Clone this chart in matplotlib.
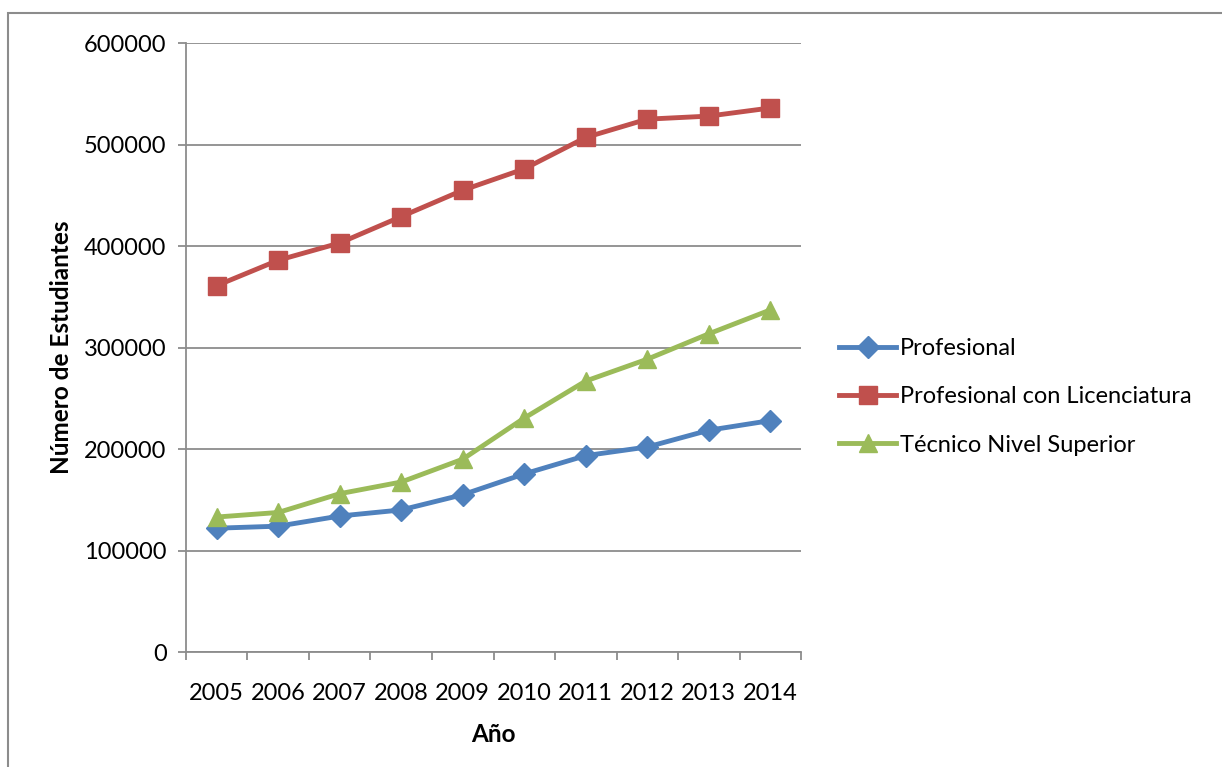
import matplotlib.pyplot as plt
from matplotlib.patches import Rectangle
import numpy as np

plt.rcParams['font.family'] = ['Lato', 'DejaVu Sans']

anios = ['2005', '2006', '2007', '2008', '2009', '2010', '2011', '2012', '2013', '2014']
profesional = [122000, 124000, 134000, 140000, 155000, 175500, 193500, 202000, 218500, 228000]
licenciatura = [361000, 386000, 403000, 429000, 455000, 476000, 507000, 525000, 528000, 536000]
tecnico = [133000, 137500, 156000, 167500, 190000, 230500, 267000, 288500, 313500, 337000]

fig = plt.figure(figsize=(12.22, 7.67), dpi=100)
ax = fig.add_axes([0.1522, 0.1499, 0.5033, 0.7940])

# marco exterior del grafico
fig.patches.append(Rectangle((8 / 1222, -0.1), 1.2, 1 - 13 / 767 + 0.1,
                             transform=fig.transFigure, fill=False,
                             edgecolor='#8c8c8c', linewidth=1.5))

x = np.arange(len(anios))
ax.plot(x, profesional, color='#4F81BD', lw=3.5, marker='D', ms=11, label='Profesional')
ax.plot(x, licenciatura, color='#C0504D', lw=3.5, marker='s', ms=13, label='Profesional con Licenciatura')
ax.plot(x, tecnico, color='#9BBB59', lw=3.5, marker='^', ms=13, label='Técnico Nivel Superior')

ax.set_xlim(-0.5, len(anios) - 0.5)
ax.set_ylim(0, 600000)
ax.set_yticks(np.arange(0, 600001, 100000))
ax.yaxis.grid(True, color='#8c8c8c', lw=1.3)
ax.set_axisbelow(True)

# marcas entre categorias, etiquetas al centro
ax.set_xticks(np.arange(-0.5, len(anios)), labels=[])
ax.set_xticks(x, labels=anios, minor=True)
ax.tick_params(axis='x', which='minor', length=0, pad=22, labelsize=17)
ax.tick_params(axis='x', which='major', length=6, width=1.3, color='#8c8c8c')
ax.tick_params(axis='y', length=6, width=1.3, color='#8c8c8c', labelsize=17, pad=8)

for s in ['top', 'right']:
    ax.spines[s].set_visible(False)
for s in ['left', 'bottom']:
    ax.spines[s].set_color('#8c8c8c')
    ax.spines[s].set_linewidth(1.3)

ax.set_xlabel('Año', fontsize=17.5, fontweight='bold', labelpad=14)
ax.set_ylabel('Número de Estudiantes', fontsize=17.5, fontweight='bold', labelpad=8)

ax.legend(loc='center left', bbox_to_anchor=(1.047, 0.419), frameon=False, fontsize=17,
          handlelength=2.4, handletextpad=0.15, labelspacing=1.15, borderaxespad=0)

fig.savefig('out.png', dpi=100)
